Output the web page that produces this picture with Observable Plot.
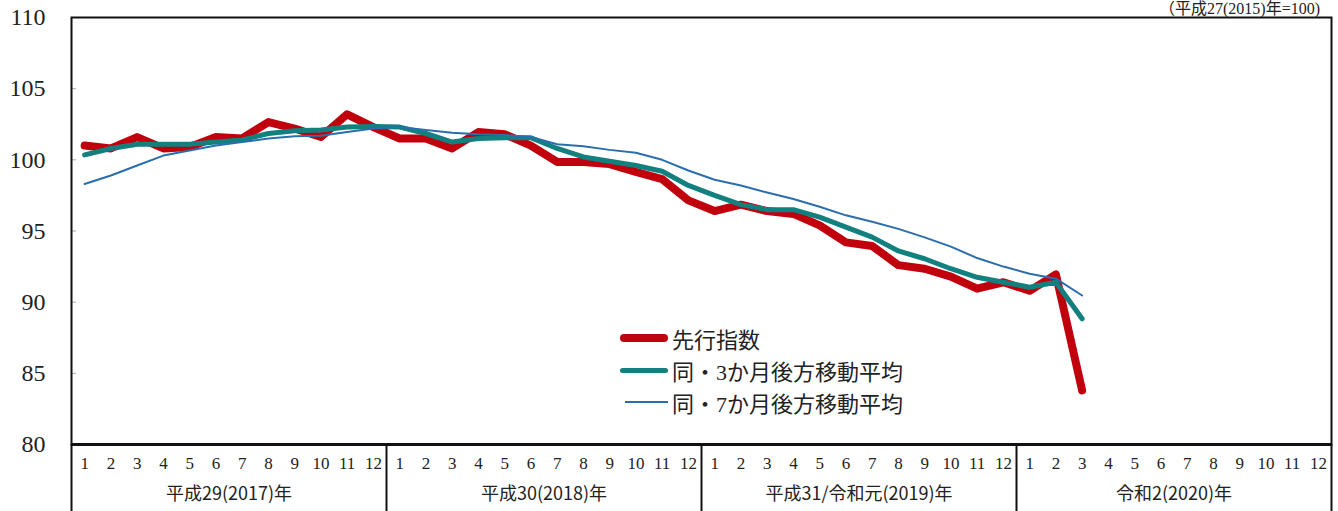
<!DOCTYPE html>
<html>
<head>
<meta charset="utf-8">
<script src="https://cdn.jsdelivr.net/npm/d3@7"></script>
<script src="https://cdn.jsdelivr.net/npm/@observablehq/plot@0.6"></script>
<style>
  html, body { margin: 0; padding: 0; background: #fff; }
  #wrap { position: relative; width: 1338px; height: 511px; overflow: hidden; font-family: "Liberation Serif", "Noto Sans CJK JP", serif; }
  #note { position: absolute; right: 18px; top: 0px; font-size: 16px; line-height: 17px; color: #222; white-space: nowrap; }
  #legend { position: absolute; left: 620px; top: 322px; font-size: 22px; color: #222; }
  .row { display: flex; align-items: center; height: 32px; }
  .sw { width: 48px; margin-right: 4px; border-radius: 5px; }
</style>
</head>
<body>
<div id="wrap">
  <div id="chart"></div>
  <div id="note">（平成27(2015)年=100)</div>
  <div id="legend"></div>
</div>
<script>
// ---- data ----
const yearNames = ["平成29(2017)年", "平成30(2018)年", "平成31/令和元(2019)年", "令和2(2020)年"];
const monthNames = [1, 2, 3, 4, 5, 6, 7, 8, 9, 10, 11, 12];
const yTicks = [80, 85, 90, 95, 100, 105, 110];
const seriesNames = ["先行指数", "同・3か月後方移動平均", "同・7か月後方移動平均"];
const seriesColors = ["#c0000c", "#12807f", "#2a6ead"];

// 2017/1 .. 2020/3
const leading = [
  101.0, 100.8, 101.6, 100.8, 100.9, 101.6, 101.5, 102.65, 102.2, 101.6, 103.2, 102.3,
  101.5, 101.5, 100.8, 101.95, 101.8, 101.0, 99.85, 99.85, 99.7, 99.15, 98.65, 97.15,
  96.4, 96.85, 96.4, 96.2, 95.4, 94.2, 93.95, 92.6, 92.35, 91.8, 90.95, 91.4,
  90.8, 91.95, 83.8
];
const ma3 = [
  100.35, 100.8, 101.1, 101.1, 101.1, 101.25, 101.4, 101.85, 102.05, 102.1, 102.3, 102.35,
  102.3, 101.85, 101.25, 101.5, 101.55, 101.55, 100.8, 100.2, 99.9, 99.6, 99.2, 98.2,
  97.5, 96.85, 96.5, 96.5, 95.97, 95.27, 94.57, 93.6, 93.05, 92.35, 91.75, 91.4,
  91.05, 91.4, 88.83
];
const ma7 = [
  98.3, 98.9, 99.6, 100.3, 100.65, 101.0, 101.25, 101.5, 101.65, 101.7, 101.95, 102.2,
  102.3, 102.1, 101.9, 101.8, 101.75, 101.6, 101.1, 100.95, 100.7, 100.5, 100.0, 99.25,
  98.6, 98.2, 97.7, 97.25, 96.7, 96.1, 95.65, 95.15, 94.55, 93.9, 93.1, 92.5,
  92.0, 91.65, 90.47
];

// ---- build ----
const toRows = (vals, s) => vals.map((v, i) => ({ t: i + 1, v, s }));
const rows = [
  ...toRows(leading, seriesNames[0]),
  ...toRows(ma3, seriesNames[1]),
  ...toRows(ma7, seriesNames[2])
];
const nMonths = yearNames.length * monthNames.length;
const monthPos = d3.range(1, nMonths + 1);
const yearCenters = yearNames.map((_, i) => i * 12 + 6.5);
const yearBounds = d3.range(0, yearNames.length + 1).map(i => i * 12 + 0.5);

const H = 511, mt = 17, mb = 67;
const yDomain = [80, 110];
const pxPerUnit = (H - mt - mb) / (yDomain[1] - yDomain[0]);
const yBelow = yDomain[0] - mb / pxPerUnit;

const widths = [8, 5, 2];

const chart = Plot.plot({
  width: 1338,
  height: H,
  marginLeft: 71,
  marginRight: 7,
  marginTop: mt,
  marginBottom: mb,
  style: { fontFamily: '"Liberation Serif", "Noto Sans CJK JP", serif', background: "#fff", color: "#222" },
  x: { domain: [0.5, nMonths + 0.5] },
  y: { domain: yDomain },
  marks: [
    Plot.ruleY(yTicks.slice(1, -1), { y: d => d, x1: 0.5, x2: 0.5 + 5 / 26.25, stroke: "#aaa", strokeWidth: 1 }),
    Plot.lineY(rows.filter(d => d.s === seriesNames[0]), { x: "t", y: "v", stroke: seriesColors[0], strokeWidth: widths[0], strokeLinejoin: "round", strokeLinecap: "round" }),
    Plot.lineY(rows.filter(d => d.s === seriesNames[1]), { x: "t", y: "v", stroke: seriesColors[1], strokeWidth: widths[1], strokeLinejoin: "round", strokeLinecap: "round" }),
    Plot.lineY(rows.filter(d => d.s === seriesNames[2]), { x: "t", y: "v", stroke: seriesColors[2], strokeWidth: widths[2], strokeLinejoin: "round" }),
    Plot.frame({ stroke: "#111", strokeWidth: 2 }),
    Plot.ruleY([yDomain[0]], { stroke: "#111", strokeWidth: 3 }),
    Plot.ruleX(yearBounds, { x: d => d, y1: yDomain[0], y2: yBelow, stroke: "#111", strokeWidth: 2 }),
    Plot.axisY({ ticks: yTicks, tickSize: 0, tickPadding: 26, fontSize: 24, label: null }),
    Plot.axisX({ ticks: monthPos, tickFormat: d => monthNames[(d - 1) % 12], tickSize: 0, tickPadding: 12, fontSize: 17, label: null }),
    Plot.axisX({ ticks: yearCenters, tickFormat: (d, i) => yearNames[i], tickSize: 0, tickPadding: 43, fontSize: 18, label: null, fontFamily: '"Noto Sans CJK JP", sans-serif' })
  ]
});
document.getElementById("chart").appendChild(chart);

// legend
const lg = document.getElementById("legend");
seriesNames.forEach((name, i) => {
  const row = document.createElement("div");
  row.className = "row";
  const sw = document.createElement("div");
  sw.className = "sw";
  sw.style.height = widths[i] + "px";
  sw.style.background = seriesColors[i];
  if (i === 2) { sw.style.width = "43px"; sw.style.marginLeft = "5px"; sw.style.borderRadius = "0"; }
  const tx = document.createElement("span");
  tx.textContent = name;
  row.appendChild(sw);
  row.appendChild(tx);
  lg.appendChild(row);
});
</script>
</body>
</html>
